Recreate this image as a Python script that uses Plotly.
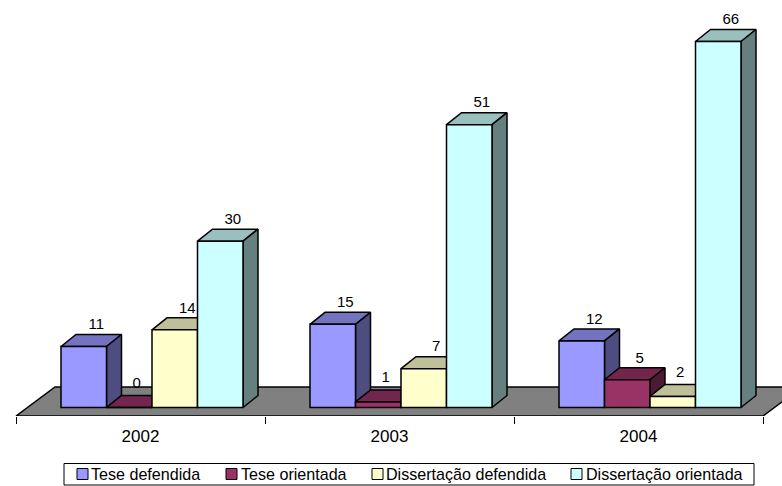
import plotly.graph_objects as go

categories = ["2002", "2003", "2004"]
series_names = ["Tese defendida", "Tese orientada", "Dissertação defendida", "Dissertação orientada"]
tese_defendida = [11, 15, 12]
tese_orientada = [0, 1, 5]
dissertacao_defendida = [14, 7, 2]
dissertacao_orientada = [30, 51, 66]
series_values = [tese_defendida, tese_orientada, dissertacao_defendida, dissertacao_orientada]
front_colors = ["#9999FF", "#993366", "#FFFFCC", "#CCFFFF"]
top_colors = ["#7373BF", "#73264D", "#BFBF99", "#99BFBF"]
side_colors = ["#4D4D80", "#4D1A33", "#808066", "#668080"]

W, H = 782, 486
PX_CAT = 249.0
PX_UNIT = 5.545
X0_PX = 16 + PX_CAT / 2
Y0_PX = 407.5
BOTTOM_PX = 416

xr = [(0 - X0_PX) / PX_CAT, (W - X0_PX) / PX_CAT]
yr = [(Y0_PX - BOTTOM_PX) / PX_UNIT, Y0_PX / PX_UNIT]

bar_w = 45.5 / PX_CAT
group_shift = 11.5 / PX_CAT
ddx = 15 / PX_CAT
ddy = 12 / PX_UNIT
LINE = 1.5

fig = go.Figure()


def poly(xs, ys, fill, line="#000000", clip=True):
    fig.add_trace(go.Scatter(
        x=xs + xs[:1], y=ys + ys[:1], mode="lines", fill="toself", fillcolor=fill,
        line=dict(color=line, width=LINE), hoverinfo="skip", showlegend=False,
        cliponaxis=clip, xaxis="x", yaxis="y"))


# floor
fl = yr[0]
fx_dx = 39 / PX_CAT
fy_dy = 29 / PX_UNIT
poly([-0.5, 2.5, 2.5 + fx_dx, -0.5 + fx_dx], [fl, fl, fl + fy_dy, fl + fy_dy], "#808080", clip=False)

label_x, label_y, label_t = [], [], []
for c in range(len(categories)):
    for s in range(len(series_values)):
        v = series_values[s][c]
        left = c + group_shift + (s - 2) * bar_w
        right = left + bar_w
        poly([left, right, right + ddx, left + ddx], [v, v, v + ddy, v + ddy], top_colors[s])
        poly([right, right + ddx, right + ddx, right], [0, ddy, v + ddy, v], side_colors[s])
        near_floor = v <= 2
        label_x.append((left + right) / 2 + ddx / 2 + (0 if near_floor else 5) / PX_CAT)
        label_y.append(v + ddy + (11.5 if near_floor else 9) / PX_UNIT)
        label_t.append(str(v))

for s, name in enumerate(series_names):
    fig.add_trace(go.Bar(
        x=[c + group_shift + (s - 1.5) * bar_w for c in range(len(categories))],
        y=series_values[s], width=bar_w, name=name,
        marker=dict(color=front_colors[s], line=dict(color="#000000", width=LINE)),
        showlegend=False, xaxis="x2", yaxis="y2"))

fig.add_trace(go.Scatter(
    x=label_x, y=label_y, text=label_t, mode="text", textposition="middle center",
    textfont=dict(family="Liberation Sans", size=15, color="#000000"),
    hoverinfo="skip", showlegend=False, xaxis="x2", yaxis="y2"))


def px(p):
    return p / W


def py(p):
    return 1 - p / BOTTOM_PX


shapes = [dict(type="rect", xref="paper", yref="paper", x0=px(64), x1=px(754), y0=py(463.5), y1=py(485),
               line=dict(color="#000000", width=1), fillcolor="#FFFFFF")]
annotations = []
swatch_left = [77, 226, 372, 571]
text_left = [91, 241, 386, 586]
for s, name in enumerate(series_names):
    shapes.append(dict(type="rect", xref="paper", yref="paper", x0=px(swatch_left[s]), x1=px(swatch_left[s] + 11),
                       y0=py(468.5), y1=py(479.5), line=dict(color="#000000", width=1), fillcolor=front_colors[s]))
    annotations.append(dict(text=name, xref="paper", yref="paper", x=px(text_left[s]), y=py(474),
                            xanchor="left", yanchor="middle", showarrow=False, xshift=-2,
                            font=dict(family="Liberation Sans", size=16.1, color="#000000")))

fig.update_layout(
    width=W, height=H, margin=dict(l=0, r=0, t=0, b=H - BOTTOM_PX),
    paper_bgcolor="#FFFFFF", plot_bgcolor="rgba(0,0,0,0)", barmode="overlay",
    font=dict(family="Liberation Sans", color="#000000"),
    xaxis=dict(range=xr, tickmode="array", tickvals=list(range(len(categories))), ticktext=categories,
               ticks="", showgrid=False, zeroline=False, showline=False,
               tickfont=dict(size=17), ticklabelstandoff=8,
               minor=dict(tickmode="array", tickvals=[-0.5, 0.5, 1.5, 2.5], ticks="outside",
                          ticklen=7, tickwidth=1, tickcolor="#000000", showgrid=False)),
    yaxis=dict(range=yr, visible=False, showgrid=False, zeroline=False),
    xaxis2=dict(range=xr, overlaying="x", visible=False, showgrid=False, zeroline=False),
    yaxis2=dict(range=yr, overlaying="y", visible=False, showgrid=False, zeroline=False),
    shapes=shapes, annotations=annotations,
    showlegend=False,
)
fig.write_html("out.html", config={"displayModeBar": False},
               post_script="document.body.style.margin='0';")
